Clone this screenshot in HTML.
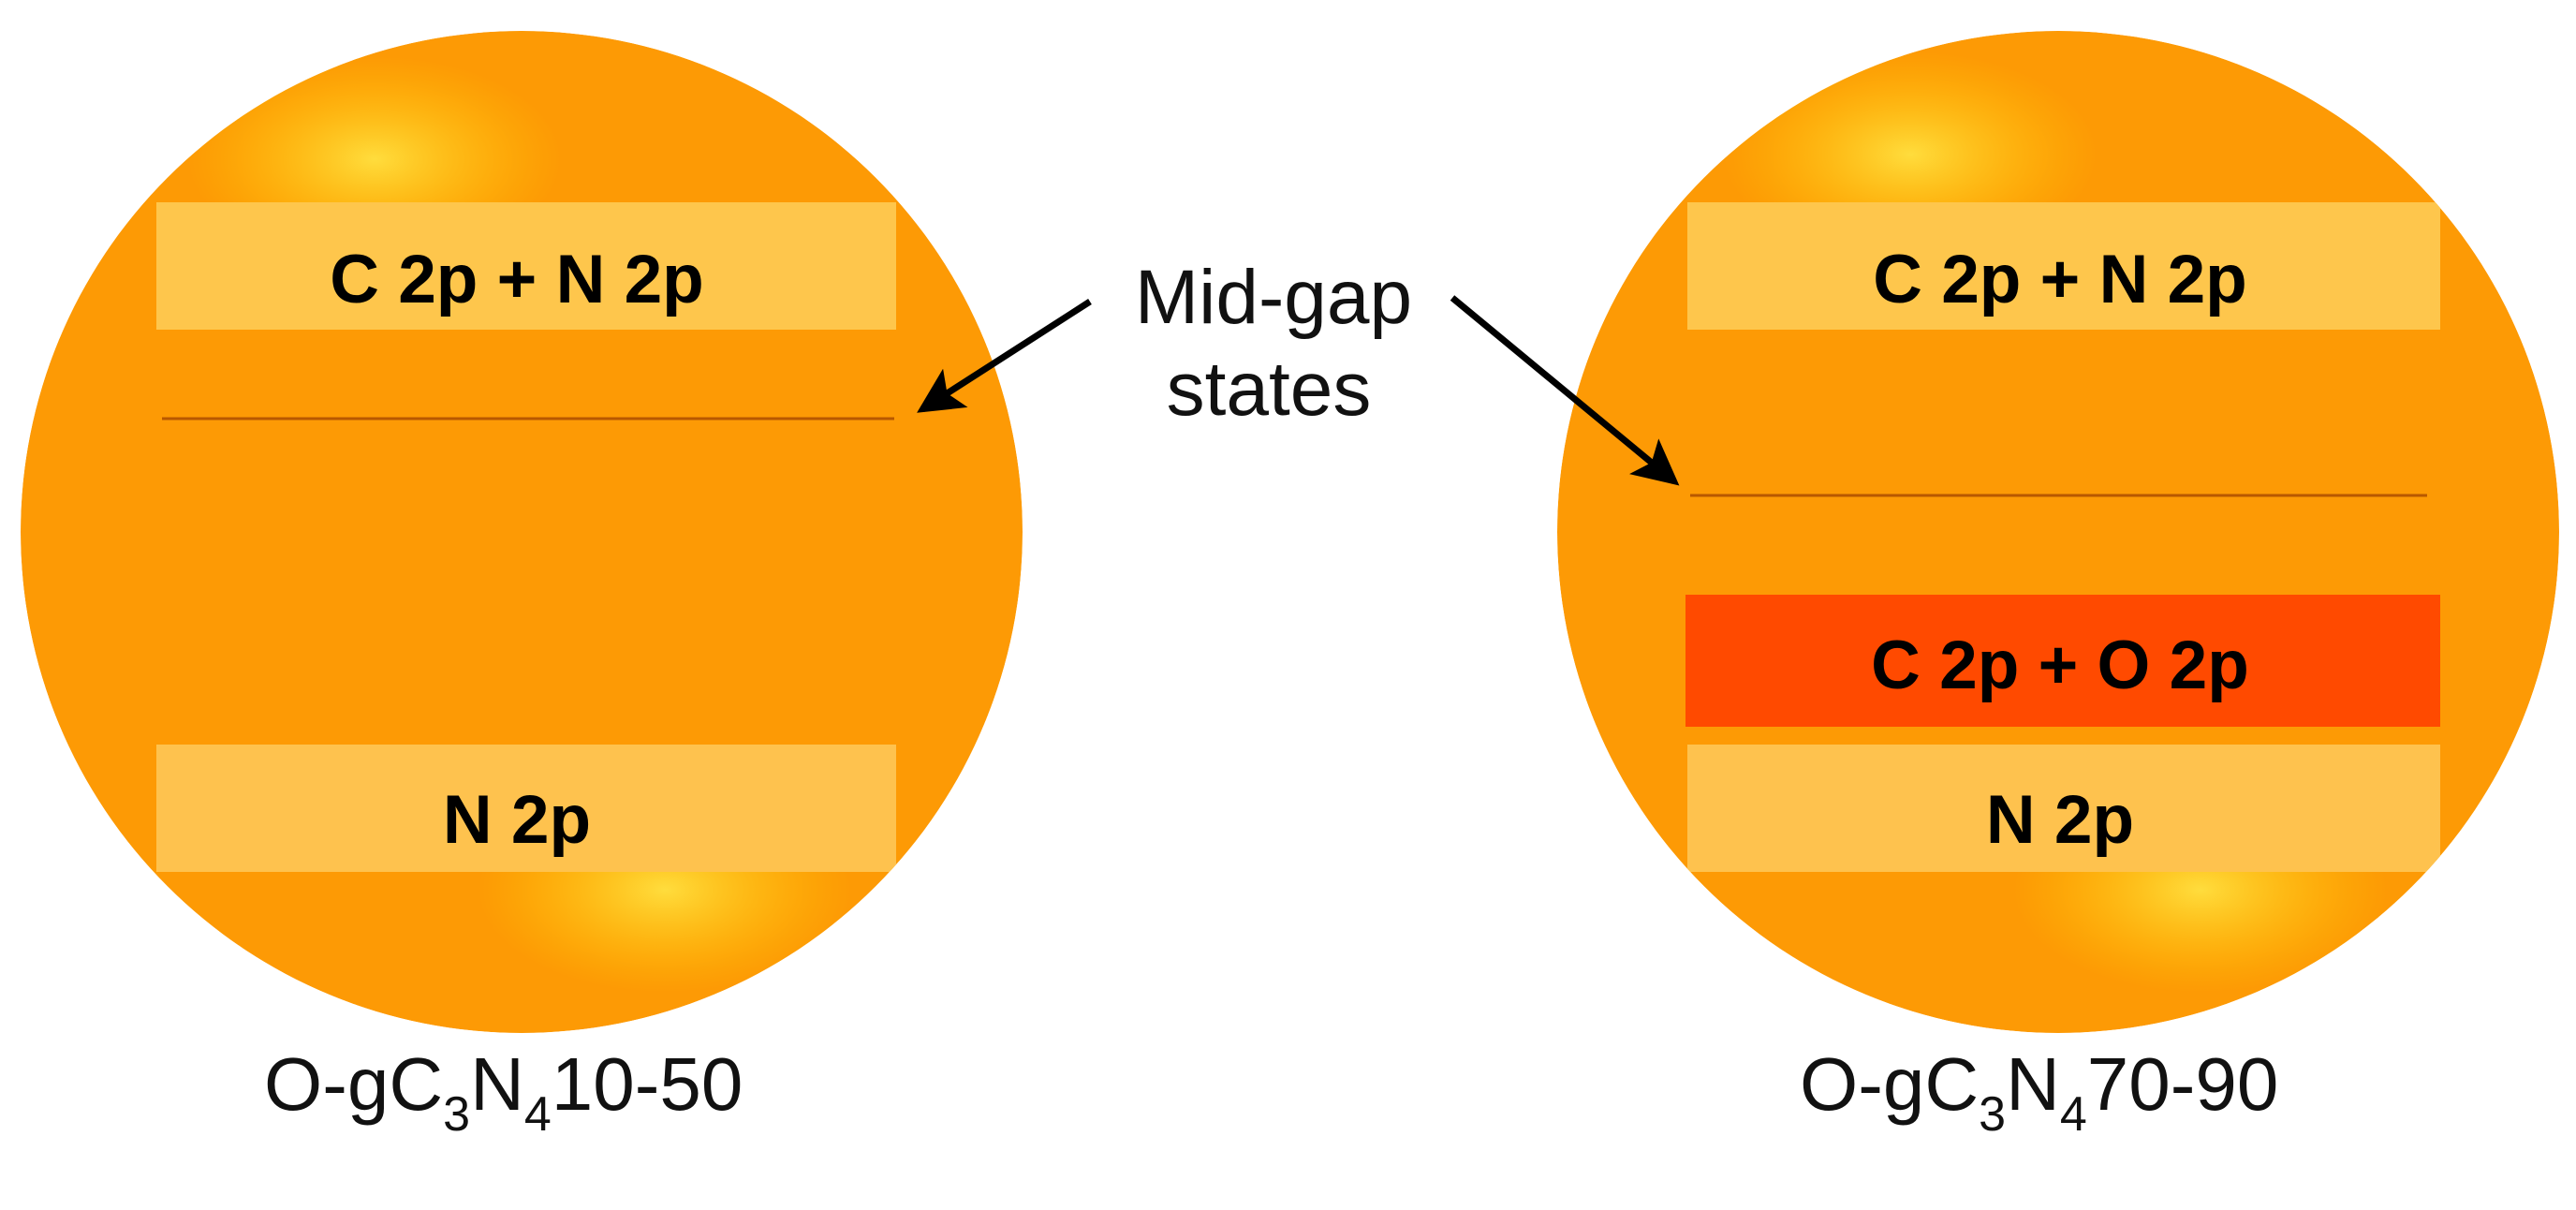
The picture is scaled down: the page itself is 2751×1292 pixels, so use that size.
<!DOCTYPE html>
<html><head><meta charset="utf-8"><style>
html,body{margin:0;padding:0;background:#fff;}
svg{display:block;}
</style></head><body>
<svg width="2751" height="1292" viewBox="0 0 2751 1292" xmlns="http://www.w3.org/2000/svg">
<defs>
<radialGradient id="g1" cx="0.5" cy="0.5" r="0.5"><stop offset="0" stop-color="#ffe040" stop-opacity="0.95"/><stop offset="1" stop-color="#ffc800" stop-opacity="0"/></radialGradient>
<clipPath id="cl"><circle cx="557" cy="568" r="535"/></clipPath>
<clipPath id="cr"><circle cx="2198" cy="568" r="535"/></clipPath>
<marker id="ah" markerWidth="7" markerHeight="7" refX="6" refY="3.5" orient="auto" markerUnits="strokeWidth"><path d="M0,0 L7,3.5 L0,7 L1.5,3.5 Z" fill="#000"/></marker>
</defs>
<g clip-path="url(#cl)">
<circle cx="557" cy="568" r="535" fill="#fd9a05"/>
<ellipse cx="400" cy="170" rx="200" ry="110" fill="url(#g1)"/>
<ellipse cx="710" cy="950" rx="200" ry="110" fill="url(#g1)"/>
<rect x="167" y="216" width="790" height="136" fill="#fec64c"/>
<rect x="167" y="795" width="790" height="136" fill="#fec24e"/>
<line x1="173" y1="447" x2="955" y2="447" stroke="#b85800" stroke-width="3"/>
</g>
<g clip-path="url(#cr)">
<circle cx="2198" cy="568" r="535" fill="#fd9a05"/>
<ellipse cx="2040" cy="165" rx="200" ry="110" fill="url(#g1)"/>
<ellipse cx="2350" cy="950" rx="200" ry="110" fill="url(#g1)"/>
<rect x="1802" y="216" width="804" height="136" fill="#fec64c"/>
<rect x="1800" y="635" width="806" height="141" fill="#ff4a00"/>
<rect x="1802" y="795" width="804" height="136" fill="#fec24e"/>
<line x1="1805" y1="529" x2="2592" y2="529" stroke="#b85800" stroke-width="3"/>
</g>
<g font-family="Liberation Sans, Arial, sans-serif" font-weight="bold" font-size="73" fill="#000" text-anchor="middle">
<text x="552" y="323">C 2p + N 2p</text>
<text x="552" y="900">N 2p</text>
<text x="2200" y="323">C 2p + N 2p</text>
<text x="2200" y="735">C 2p + O 2p</text>
<text x="2200" y="900">N 2p</text>
</g>
<g font-family="Liberation Sans, Arial, sans-serif" font-size="82" fill="#111" text-anchor="middle">
<text x="1360" y="345">Mid-gap</text>
<text x="1355" y="443">states</text>
</g>
<g font-family="Liberation Sans, Arial, sans-serif" font-size="80" fill="#111">
<text x="282" y="1185">O-gC<tspan font-size="52" dy="22">3</tspan><tspan dy="-22">N</tspan><tspan font-size="52" dy="22">4</tspan><tspan dy="-22">10-50</tspan></text>
<text x="1922" y="1185">O-gC<tspan font-size="52" dy="22">3</tspan><tspan dy="-22">N</tspan><tspan font-size="52" dy="22">4</tspan><tspan dy="-22">70-90</tspan></text>
</g>
<line x1="1164" y1="322" x2="985" y2="437" stroke="#000" stroke-width="7" marker-end="url(#ah)"/>
<line x1="1551" y1="318" x2="1788" y2="514" stroke="#000" stroke-width="7" marker-end="url(#ah)"/>
</svg>
</body></html>
